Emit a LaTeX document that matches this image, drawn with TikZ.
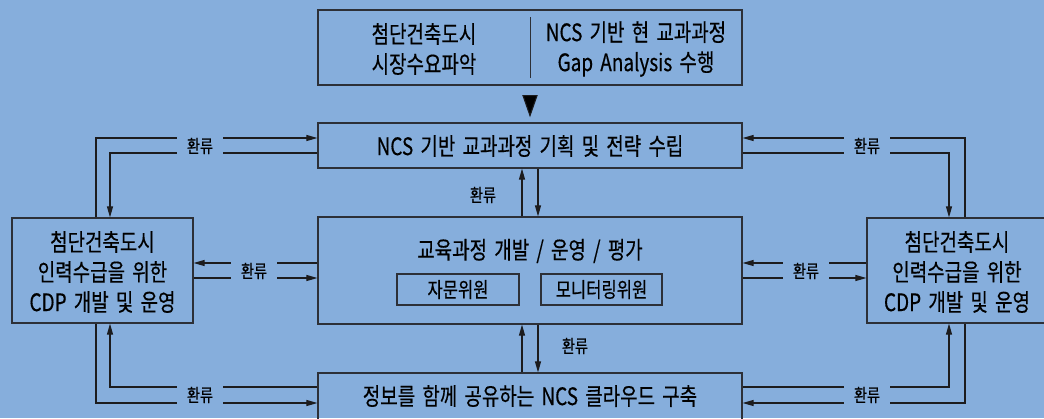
\documentclass[tikz,border=0pt]{standalone}
\usepackage{fontspec}
\setmainfont[FakeStretch=0.79,WordSpace=1.7,FakeBold=0.4]{Noto Sans CJK KR}
\usetikzlibrary{arrows.meta,calc}
\definecolor{bg}{RGB}{134,174,220}
\definecolor{ln}{RGB}{28,28,30}
\definecolor{bd}{RGB}{45,48,55}
\begin{document}
\begin{tikzpicture}[x=1pt,y=-1pt,
  box/.style={draw=bd, line width=1.2pt, inner sep=0pt},
  txt/.style={text=black, align=center, font=\fontsize{24}{30}\selectfont, inner sep=0pt},
  subtxt/.style={text=black, font=\fontsize{21}{22}\selectfont},
  lbl/.style={fill=bg, text=black, font=\fontsize{18}{20}\selectfont, minimum width=46pt, minimum height=22pt, inner sep=0pt},
  vlbl/.style={text=black, font=\fontsize{18}{20}\selectfont, inner sep=0pt},
  arr/.style={draw=ln, line width=1.1pt, -{Triangle[length=11pt,width=6pt]}},
  ln/.style={draw=ln, line width=1.1pt}]
\useasboundingbox (0,0) rectangle (1044,418);
\clip (0,0) rectangle (1044,418);
\fill[bg] (0,0) rectangle (1044,418);

% boxes
\node[box, minimum width=424pt, minimum height=75pt] (top) at (530,47.5) {};
\node[box, minimum width=424pt, minimum height=45pt] (plan) at (530,145.5) {};
\node[box, minimum width=424pt, minimum height=107pt] (dev) at (530,270.5) {};
\node[box, minimum width=424pt, minimum height=60pt] (cloud) at (530,403) {};
\node[box, minimum width=181pt, minimum height=105pt] (left) at (102.5,270.5) {};
\node[box, minimum width=180pt, minimum height=105pt] (right) at (957,270.5) {};
\node[box, minimum width=122pt, minimum height=31pt] (sub1) at (458,289.5) {};
\node[box, minimum width=121pt, minimum height=31pt] (sub2) at (601.5,289.5) {};

% texts
\node[txt] (t1) at (424,49) {첨단건축도시\\시장수요파악};
\node[txt] (t2) at (636,49) {NCS 기반 현 교과과정\\Gap Analysis 수행};
\draw[draw=bd, line width=1pt] ([yshift=-8pt]top.north) -- ([yshift=8pt]top.south);
\node[txt] (t3) at (530,146) {NCS 기반 교과과정 기획 및 전략 수립};
\node[txt] (t4) at (530,251) {교육과정 개발 / 운영 / 평가};
\node[subtxt] (t5) at (sub1.center) {자문위원};
\node[subtxt] (t6) at (sub2.center) {모니터링위원};
\node[txt] (t7) at (530,396) {정보를 함께 공유하는 NCS 클라우드 구축};
\node[txt] (t8) at (102.5,272) {첨단건축도시\\인력수급을 위한\\CDP 개발 및 운영};
\node[txt] (t9) at (957,272) {첨단건축도시\\인력수급을 위한\\CDP 개발 및 운영};

% big triangle
\fill[ln] ($(top.south)+(-7,10)$) -- ($(top.south)+(7,10)$) -- ($(top.south)+(0,30)$) -- cycle;

% vertical arrows
\draw[arr] ([xshift=-8pt]dev.north) -- ([xshift=-8pt]plan.south);
\draw[arr] ([xshift=8pt]plan.south) -- ([xshift=8pt]dev.north);
\node[vlbl] (v1) at (483,195) {환류};
\draw[arr] ([xshift=-8pt]cloud.north) -- ([xshift=-8pt]dev.south);
\draw[arr] ([xshift=8pt]dev.south) -- ([xshift=8pt]cloud.north);
\node[vlbl] (v2) at (575,346) {환류};

% left loops
\draw[arr] ([xshift=-6.5pt]left.north) |- ([yshift=7.5pt]plan.west);
\draw[arr] ([yshift=-7.5pt]plan.west) -| ([xshift=7.5pt]left.north);
\node[lbl] (l1) at (200,146) {환류};
\draw[arr] ([yshift=7.5pt]dev.west) -- ([yshift=7.5pt]left.east);
\draw[arr] ([yshift=-7.5pt]left.east) -- ([yshift=-7.5pt]dev.west);
\node[lbl] (l2) at (254,271) {환류};
\draw[arr] ([yshift=16pt]cloud.west) -| ([xshift=7.5pt]left.south);
\draw[arr] ([xshift=-6.5pt]left.south) |- ([yshift=0pt]cloud.west);
\node[lbl] (l3) at (200,395) {환류};

% right loops
\draw[arr] ([xshift=8pt]right.north) |- ([yshift=7.5pt]plan.east);
\draw[arr] ([yshift=-7.5pt]plan.east) -| ([xshift=-8pt]right.north);
\node[lbl] (r1) at (867,146) {환류};
\draw[arr] ([yshift=7.5pt]right.west) -- ([yshift=7.5pt]dev.east);
\draw[arr] ([yshift=-7.5pt]dev.east) -- ([yshift=-7.5pt]right.west);
\node[lbl] (r2) at (806,271) {환류};
\draw[arr] ([yshift=16pt]cloud.east) -| ([xshift=-8pt]right.south);
\draw[arr] ([xshift=8pt]right.south) |- ([yshift=0pt]cloud.east);
\node[lbl] (r3) at (867,395) {환류};
\end{tikzpicture}
\end{document}
